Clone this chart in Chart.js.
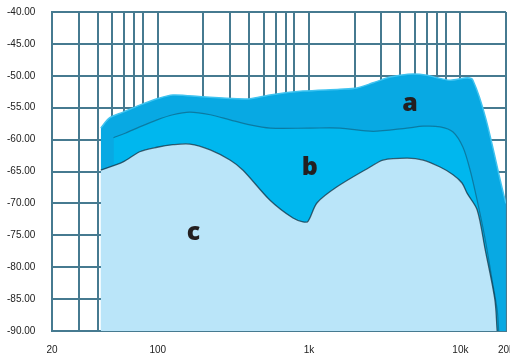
<!DOCTYPE html>
<html lang="en">

<head>
    <meta charset="UTF-8">
    <title>Response curves</title>
    <script src="https://cdn.jsdelivr.net/npm/chart.js"></script>
    <style>
        body {
            margin: 0;
            padding: 0;
            background: #ffffff;
            overflow: hidden;
        }

        .chart-box {
            width: 527px;
            height: 354px;
        }
    </style>
</head>

<body>
    <div class="chart-box">
        <canvas id="curves" width="527" height="354"></canvas>
    </div>

    <script>
        // frequency (Hz) and level (dB), one pair per curve
        const freqA = [42, 48, 59, 76, 99, 126, 199, 334, 407, 552, 912, 1600, 2075, 2650, 3430, 3990, 4870, 6020, 7010, 8540, 12100, 20000];
        const levelA = [-58.2, -56.6, -55.7, -54.6, -53.6, -53.0, -53.3, -53.6, -53.6, -53.0, -52.4, -52.1, -51.9, -51.1, -50.2, -49.9, -49.7, -49.9, -50.3, -50.7, -50.7, -70.0];

        const freqB = [51, 61, 76, 99, 126, 163, 222, 300, 407, 552, 1014, 1600, 2650, 4440, 5670, 7340, 8940, 10400, 11600, 12900, 14600, 16200, 17500, 17900];
        const levelB = [-59.7, -59.0, -58.0, -56.9, -56.1, -55.7, -56.1, -56.9, -57.7, -58.2, -58.2, -58.2, -58.7, -58.2, -57.9, -58.0, -58.8, -61.2, -64.8, -69.5, -75.7, -82.0, -86.7, -90.0];

        const freqC = [42, 59, 76, 99, 126, 163, 222, 300, 366, 552, 783, 912, 984, 1130, 1530, 2530, 3080, 4440, 5670, 7340, 8940, 10250, 11070, 12900, 14600, 16900, 17500];
        const levelC = [-64.8, -63.5, -61.9, -61.2, -60.8, -60.7, -61.6, -63.2, -64.8, -69.5, -72.3, -72.9, -72.8, -69.9, -67.4, -64.3, -63.2, -62.9, -63.2, -64.3, -65.5, -66.8, -68.4, -71.0, -77.3, -85.1, -90.0];

        // axis ticks
        const gridFreqs = [20, 30, 40, 50, 60, 70, 80, 100, 200, 300, 400, 500, 600, 700, 800, 1000,
            2000, 3000, 4000, 5000, 6000, 7000, 8000, 10000, 20000];
        const freqLabels = { 20: '20', 100: '100', 1000: '1k', 10000: '10k', 20000: '20k' };
        const levelTicks = [-90, -85, -80, -75, -70, -65, -60, -55, -50, -45, -40];

        // curve names and where their letters sit
        const curveNames = ['a', 'b', 'c'];
        const namePos = [[4650, -54.4], [1010, -64.5], [172, -74.6]];

        function toPoints(freqs, levels) {
            return freqs.map((f, i) => ({ x: f, y: levels[i] }));
        }

        // draws the letters a, b, c on the areas
        const curveLetters = {
            id: 'curveLetters',
            afterDatasetsDraw(chart) {
                const ctx = chart.ctx;
                const xs = chart.scales.x;
                const ys = chart.scales.y;
                ctx.save();
                ctx.fillStyle = '#231f20';
                ctx.font = '800 25px "Open Sans", sans-serif';
                ctx.textAlign = 'center';
                ctx.textBaseline = 'middle';
                curveNames.forEach((name, i) => {
                    ctx.fillText(name, xs.getPixelForValue(namePos[i][0]), ys.getPixelForValue(namePos[i][1]));
                });
                ctx.restore();
            }
        };

        const ctx = document.getElementById('curves').getContext('2d');
        new Chart(ctx, {
            type: 'line',
            data: {
                datasets: [
                    {
                        label: 'a',
                        data: toPoints(freqA, levelA),
                        backgroundColor: '#08a9e3',
                        borderColor: '#3fc3f0',
                        borderWidth: 1.5,
                        fill: 'start',
                        order: 3
                    },
                    {
                        label: 'b',
                        data: toPoints(freqB, levelB),
                        backgroundColor: '#00b7ee',
                        borderColor: 'rgba(20, 60, 80, 0.45)',
                        borderWidth: 1.2,
                        fill: 'start',
                        order: 2
                    },
                    {
                        label: 'c',
                        data: toPoints(freqC, levelC),
                        backgroundColor: '#bae5f9',
                        borderColor: 'rgba(15, 40, 55, 0.7)',
                        borderWidth: 1.3,
                        fill: 'start',
                        order: 1
                    }
                ]
            },
            options: {
                responsive: false,
                animation: false,
                devicePixelRatio: 1,
                layout: { padding: { top: 12, left: 7, right: 0, bottom: 0 } },
                elements: {
                    point: { radius: 0 },
                    line: { tension: 0.3 }
                },
                plugins: {
                    legend: { display: false },
                    tooltip: { enabled: false }
                },
                scales: {
                    x: {
                        type: 'logarithmic',
                        min: 20,
                        max: 20000,
                        afterBuildTicks: (scale) => {
                            scale.ticks = gridFreqs.map(v => ({ value: v }));
                        },
                        afterFit: (scale) => {
                            scale.height = 23;
                        },
                        ticks: {
                            autoSkip: false,
                            maxRotation: 0,
                            padding: 13,
                            color: '#222',
                            font: { family: 'Liberation Sans, Arial, sans-serif', size: 10 },
                            callback: (v) => freqLabels[v] || ''
                        },
                        grid: { color: '#467a90', lineWidth: 2, drawTicks: false },
                        border: { color: '#467a90', width: 2 }
                    },
                    y: {
                        min: -90,
                        max: -40,
                        afterBuildTicks: (scale) => {
                            scale.ticks = levelTicks.map(v => ({ value: v }));
                        },
                        afterFit: (scale) => {
                            scale.width = 45;
                        },
                        ticks: {
                            padding: 0,
                            crossAlign: 'far',
                            color: '#222',
                            font: { family: 'Liberation Sans, Arial, sans-serif', size: 10 },
                            callback: (v) => v.toFixed(2)
                        },
                        grid: { color: '#467a90', lineWidth: 2, drawTicks: false },
                        border: { color: '#467a90', width: 2 }
                    }
                }
            },
            plugins: [curveLetters]
        });
    </script>
</body>

</html>
